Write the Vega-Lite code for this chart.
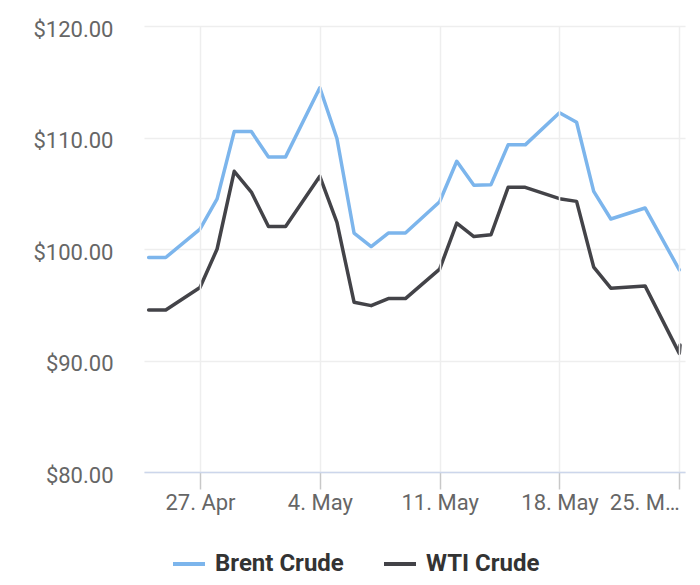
{
  "$schema": "https://vega.github.io/schema/vega-lite/v6.json",
  "width": 541,
  "height": 446,
  "autosize": {"type": "none"},
  "padding": {"left": 144, "top": 26, "right": 15, "bottom": 113},
  "config": {
    "font": "Roboto",
    "view": {"stroke": null},
    "axis": {"labelFontSize": 22, "labelColor": "#666666", "gridColor": "#eeeeee", "gridWidth": 1.5}
  },
  "data": {
    "values": [
      {"date": "2020-04-24T00:00", "series": "Brent Crude", "price": 99.24},
      {"date": "2020-04-25T00:00", "series": "Brent Crude", "price": 99.24},
      {"date": "2020-04-27T00:00", "series": "Brent Crude", "price": 101.79},
      {"date": "2020-04-28T00:00", "series": "Brent Crude", "price": 104.49},
      {"date": "2020-04-29T00:00", "series": "Brent Crude", "price": 110.53},
      {"date": "2020-04-30T00:00", "series": "Brent Crude", "price": 110.53},
      {"date": "2020-05-01T00:00", "series": "Brent Crude", "price": 108.26},
      {"date": "2020-05-02T00:00", "series": "Brent Crude", "price": 108.26},
      {"date": "2020-05-04T00:00", "series": "Brent Crude", "price": 114.46},
      {"date": "2020-05-05T00:00", "series": "Brent Crude", "price": 109.91},
      {"date": "2020-05-06T00:00", "series": "Brent Crude", "price": 101.43},
      {"date": "2020-05-07T00:00", "series": "Brent Crude", "price": 100.22},
      {"date": "2020-05-08T00:00", "series": "Brent Crude", "price": 101.43},
      {"date": "2020-05-09T00:00", "series": "Brent Crude", "price": 101.43},
      {"date": "2020-05-11T00:00", "series": "Brent Crude", "price": 104.24},
      {"date": "2020-05-12T00:00", "series": "Brent Crude", "price": 107.87},
      {"date": "2020-05-13T00:00", "series": "Brent Crude", "price": 105.71},
      {"date": "2020-05-14T00:00", "series": "Brent Crude", "price": 105.77},
      {"date": "2020-05-15T00:00", "series": "Brent Crude", "price": 109.34},
      {"date": "2020-05-16T00:00", "series": "Brent Crude", "price": 109.34},
      {"date": "2020-05-18T00:00", "series": "Brent Crude", "price": 112.22},
      {"date": "2020-05-19T00:00", "series": "Brent Crude", "price": 111.37},
      {"date": "2020-05-20T00:00", "series": "Brent Crude", "price": 105.17},
      {"date": "2020-05-21T00:00", "series": "Brent Crude", "price": 102.69},
      {"date": "2020-05-23T00:00", "series": "Brent Crude", "price": 103.68},
      {"date": "2020-05-25T00:00", "series": "Brent Crude", "price": 98.13},
      {"date": "2020-04-24T00:00", "series": "WTI Crude", "price": 94.53},
      {"date": "2020-04-25T00:00", "series": "WTI Crude", "price": 94.53},
      {"date": "2020-04-27T00:00", "series": "WTI Crude", "price": 96.54},
      {"date": "2020-04-28T00:00", "series": "WTI Crude", "price": 100.0},
      {"date": "2020-04-29T00:00", "series": "WTI Crude", "price": 106.97},
      {"date": "2020-04-30T00:00", "series": "WTI Crude", "price": 105.11},
      {"date": "2020-05-01T00:00", "series": "WTI Crude", "price": 102.02},
      {"date": "2020-05-02T00:00", "series": "WTI Crude", "price": 102.02},
      {"date": "2020-05-04T00:00", "series": "WTI Crude", "price": 106.52},
      {"date": "2020-05-05T00:00", "series": "WTI Crude", "price": 102.38},
      {"date": "2020-05-06T00:00", "series": "WTI Crude", "price": 95.23},
      {"date": "2020-05-07T00:00", "series": "WTI Crude", "price": 94.92},
      {"date": "2020-05-08T00:00", "series": "WTI Crude", "price": 95.55},
      {"date": "2020-05-09T00:00", "series": "WTI Crude", "price": 95.55},
      {"date": "2020-05-11T00:00", "series": "WTI Crude", "price": 98.19},
      {"date": "2020-05-12T00:00", "series": "WTI Crude", "price": 102.33},
      {"date": "2020-05-13T00:00", "series": "WTI Crude", "price": 101.12},
      {"date": "2020-05-14T00:00", "series": "WTI Crude", "price": 101.28},
      {"date": "2020-05-15T00:00", "series": "WTI Crude", "price": 105.53},
      {"date": "2020-05-16T00:00", "series": "WTI Crude", "price": 105.53},
      {"date": "2020-05-18T00:00", "series": "WTI Crude", "price": 104.51},
      {"date": "2020-05-19T00:00", "series": "WTI Crude", "price": 104.27},
      {"date": "2020-05-20T00:00", "series": "WTI Crude", "price": 98.37},
      {"date": "2020-05-21T00:00", "series": "WTI Crude", "price": 96.49},
      {"date": "2020-05-23T00:00", "series": "WTI Crude", "price": 96.69},
      {"date": "2020-05-25T00:00", "series": "WTI Crude", "price": 90.64},
      {"date": "2020-05-25T01:00", "series": "WTI Crude", "price": 91.39}
    ]
  },
  "mark": {"type": "line", "strokeWidth": 3.5, "strokeJoin": "round", "strokeCap": "round"},
  "encoding": {
    "x": {
      "field": "date",
      "type": "temporal",
      "title": null,
      "scale": {
        "domain": [
          {"year": 2020, "month": 4, "date": 23, "hours": 17, "minutes": 30},
          {"year": 2020, "month": 5, "date": 25, "hours": 8}
        ]
      },
      "axis": {
        "values": [
          {"year": 2020, "month": 4, "date": 27},
          {"year": 2020, "month": 5, "date": 4},
          {"year": 2020, "month": 5, "date": 11},
          {"year": 2020, "month": 5, "date": 18},
          {"year": 2020, "month": 5, "date": 25}
        ],
        "format": "%-d. %b",
        "labelExpr": "date(datum.value) == 25 ? '25. M…' : datum.label",
        "labelFlush": 12,
        "labelPadding": 3,
        "tickSize": 17,
        "tickWidth": 1.5,
        "tickColor": "#c8c8c8",
        "domainColor": "#ccd6eb",
        "domainWidth": 1.5,
        "zindex": 1
      }
    },
    "y": {
      "field": "price",
      "type": "quantitative",
      "title": null,
      "scale": {"domain": [80, 120], "nice": false, "zero": false},
      "axis": {
        "values": [80, 90, 100, 110, 120],
        "format": "$.2f",
        "domain": false,
        "ticks": false,
        "labelPadding": 31,
        "labelOffset": 3
      }
    },
    "color": {
      "field": "series",
      "type": "nominal",
      "scale": {"domain": ["Brent Crude", "WTI Crude"], "range": ["#7cb5ec", "#434348"]},
      "legend": {
        "title": null,
        "orient": "none",
        "direction": "horizontal",
        "legendX": 27,
        "legendY": 520,
        "symbolType": "stroke",
        "symbolSize": 1024,
        "symbolStrokeWidth": 4,
        "labelFontSize": 24,
        "labelFontWeight": "bold",
        "labelColor": "#333333",
        "labelOffset": 8,
        "columnPadding": 32
      }
    }
  }
}
